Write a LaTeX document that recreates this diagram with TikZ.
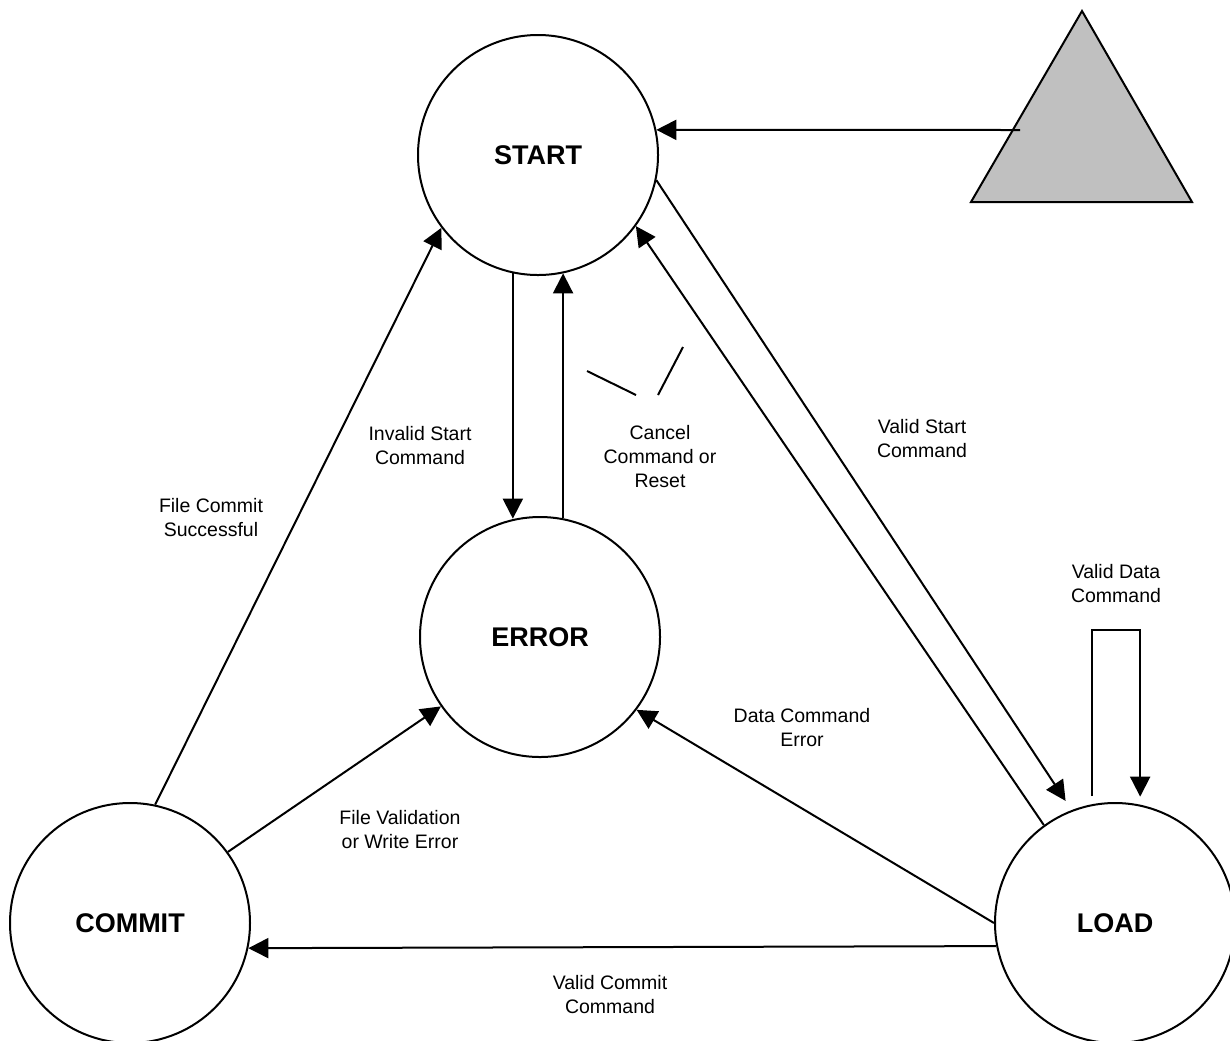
\documentclass[tikz,border=0pt]{standalone}
\usepackage{fontspec}
\setmainfont{Liberation Sans}
\usetikzlibrary{arrows.meta}

\begin{document}
\begin{tikzpicture}[x=0.5pt,y=-0.5pt,line width=1pt,
stato/.style={draw,circle,minimum size=120pt,inner sep=0pt,font=\fontsize{13.5pt}{15pt}\selectfont\bfseries},
etichetta/.style={align=center,font=\fontsize{9.75pt}{12pt}\selectfont},
freccia/.style={-{Triangle[length=10pt,width=10pt]}},
tratto/.style={line width=1pt}
]
\useasboundingbox (0,0) rectangle (1230,1040);
%--
\node[stato](start) at (538,155){START};
\node[stato](error) at (540,637){ERROR};
\node[stato](commit) at (130,923){COMMIT};
\node[stato](load) at (1115,923){LOAD};
%--
\draw[fill={rgb,255:red,192;green,192;blue,192}] (1082,11) -- (1192,202) -- (971,202) -- cycle;
\coordinate (src) at (1020,130);
\draw[freccia] (src) -- (start.12);
%--
\draw[freccia] (start.258.5) -- (start.258.5 |- error.102.5);
\draw[freccia] (error.79) -- (error.79 |- start.282);
\node[etichetta](lInvalid) at (420,446){Invalid Start\\Command};
\node[etichetta](lCancel) at (660,457){Cancel\\Command or\\Reset};
\draw[tratto] (587,371) -- (636,395);
\draw[tratto] (658,395) -- (683,347);
%--
\draw[freccia] (commit.78.7) -- (start.217.2);
\node[etichetta](lFileCommit) at (211,518){File Commit\\Successful};
%--
\draw[freccia,shorten >=5.5pt] (start.348) -- (load.111);
\draw[freccia] (load.126.6) -- (start.324);
\node[etichetta](lValidStart) at (922,439){Valid Start\\Command};
%--
\draw[freccia,shorten <=4pt,shorten >=4pt] (load.101.5) -- ++(0,-174) -| (load.78.5);
\node[etichetta](lValidData) at (1116,584){Valid Data\\Command};
%--
\draw[freccia] (load.180) -- (error.323.5);
\node[etichetta](lDataErr) at (802,728){Data Command\\Error};
%--
\draw[freccia] (commit.36.7) -- (error.215.9);
\node[etichetta](lFileVal) at (400,830){File Validation\\or Write Error};
%--
\draw[freccia] (load.191.5) -- (commit.348.5);
\node[etichetta](lValidCommit) at (610,995){Valid Commit\\Command};
\end{tikzpicture}
\end{document}
